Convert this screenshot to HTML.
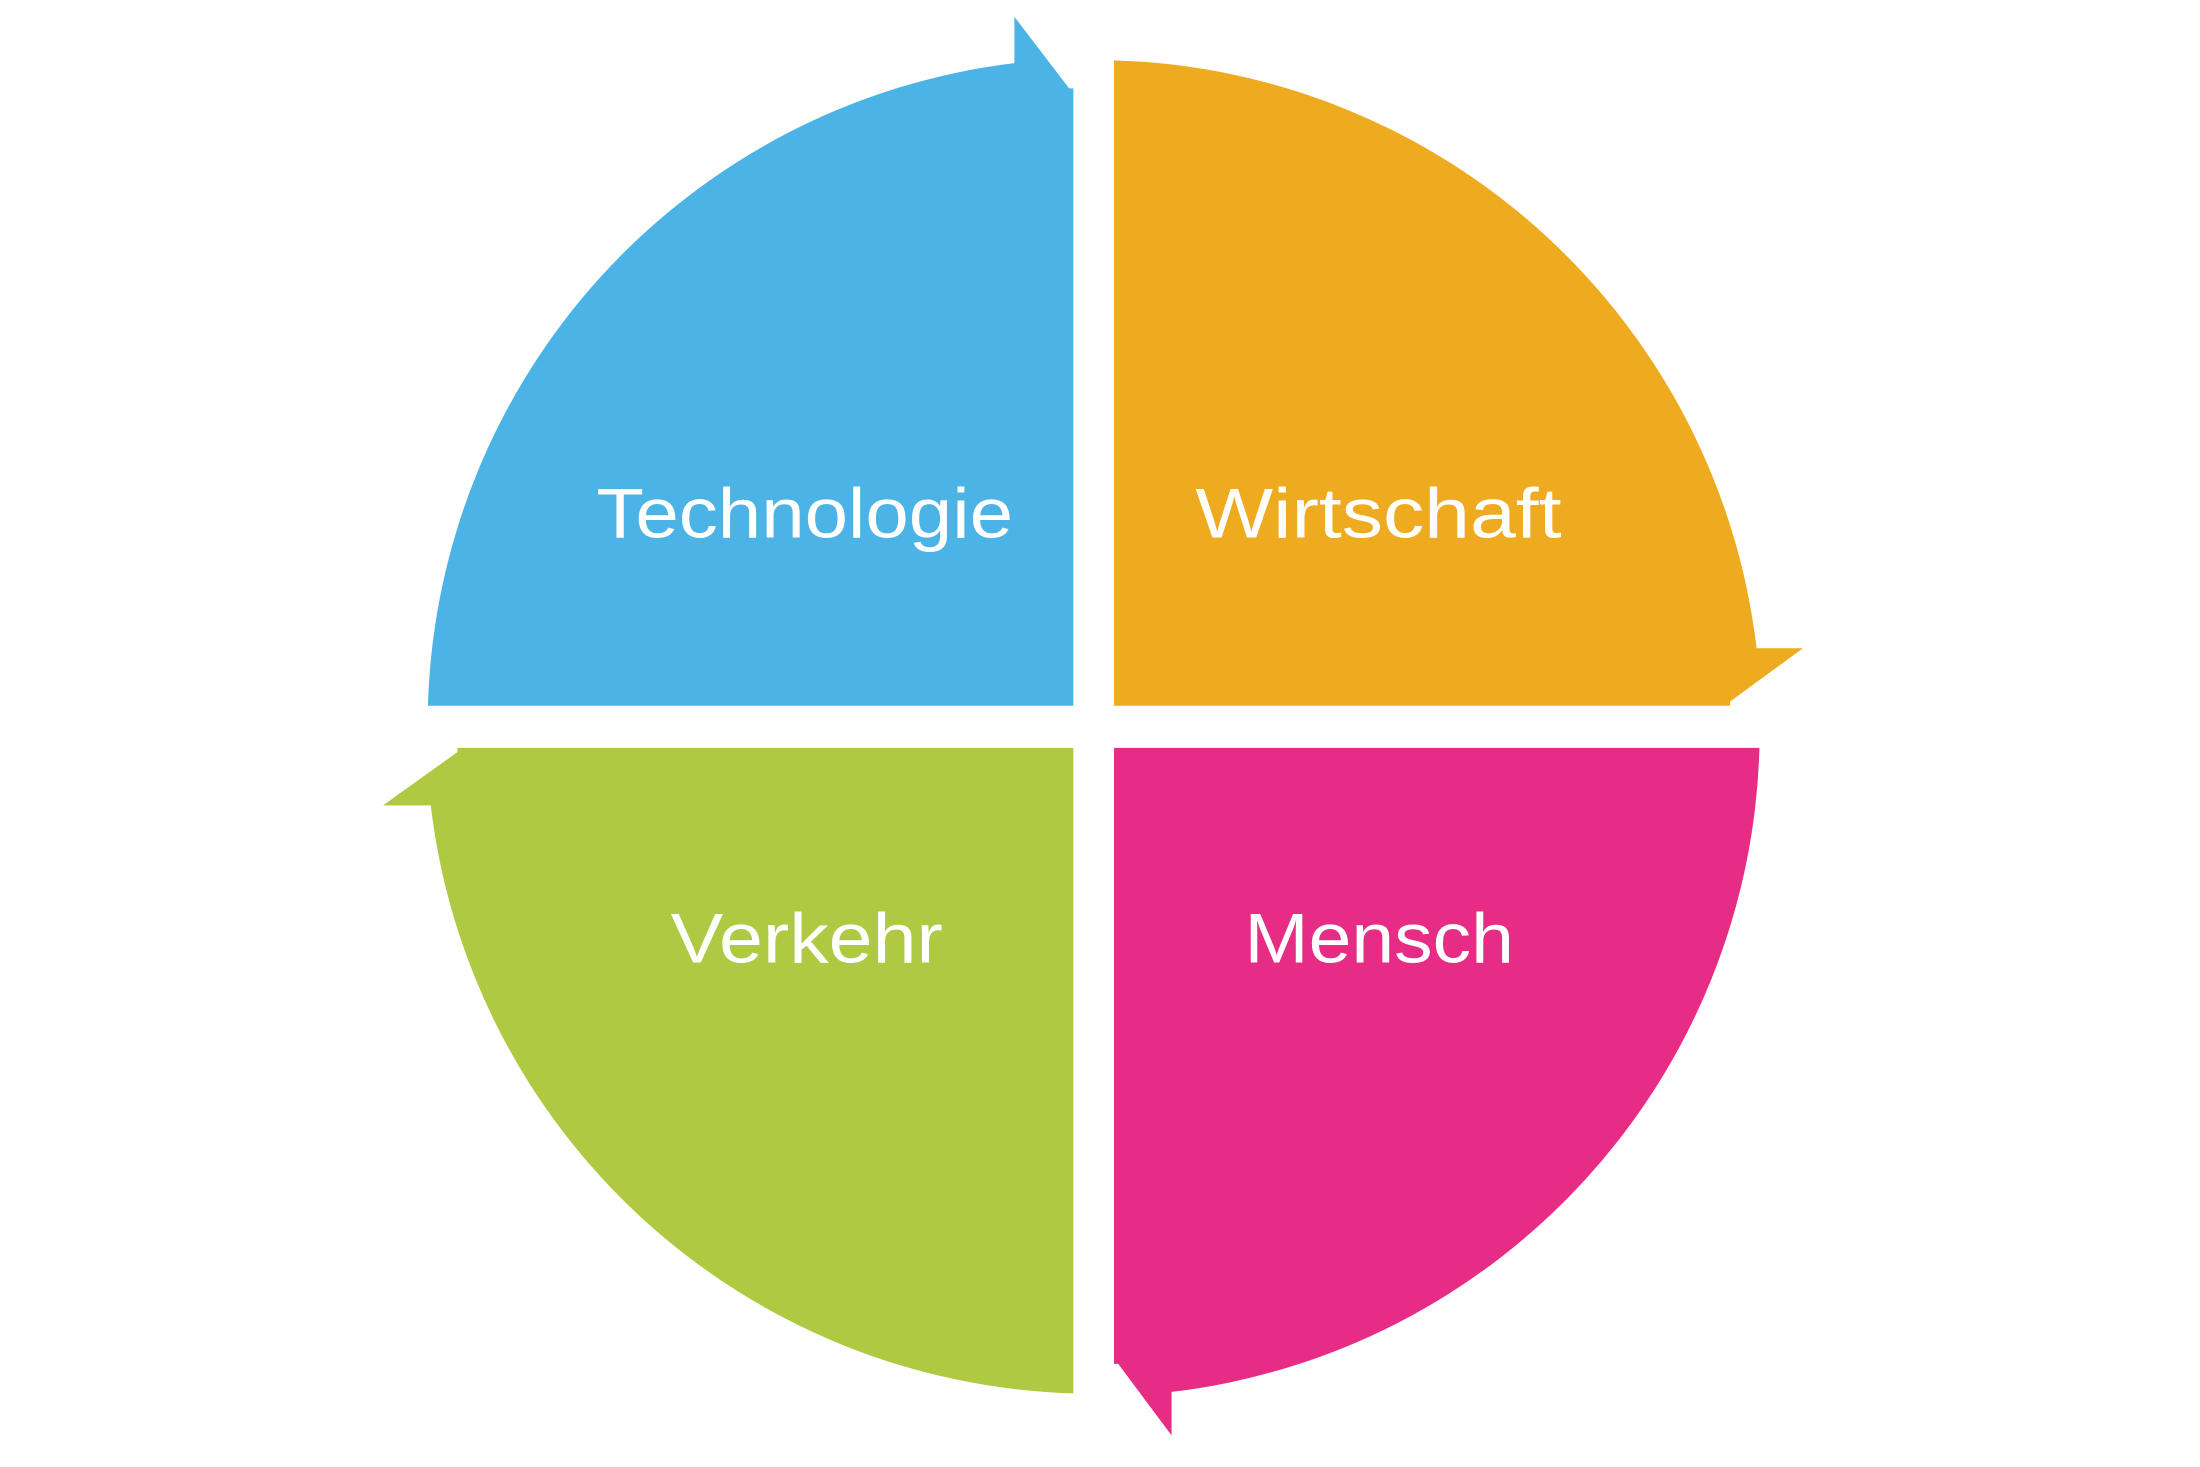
<!DOCTYPE html>
<html><head><meta charset="utf-8"><style>html,body{margin:0;padding:0;background:#fff}svg{display:block}</style></head>
<body>
<svg width="2200" height="1467" viewBox="0 0 1568 1045.5" preserveAspectRatio="none" xmlns="http://www.w3.org/2000/svg">
<path d="M305,503 L765,503 L765,63 L762,63 L723,12 L723,45 A475 475 0 0 0 305,503 Z" fill="#4bb3e5"/>
<path d="M794,43 L794,503 L1233,503 L1233,500 L1285,462 L1252,462 A475 475 0 0 0 794,43 Z" fill="#efab1f"/>
<path d="M765,533 L326,533 L326,536 L273,574 L307,574 A475 475 0 0 0 765,993 Z" fill="#afc942"/>
<path d="M794,533 L1254,533 A475 475 0 0 1 835,992 L835,1023 L797,972 L794,972 Z" fill="#e72c86"/>
<g font-family="Liberation Sans, sans-serif" font-size="50" fill="#fff">
<text x="425" y="383" textLength="297" lengthAdjust="spacingAndGlyphs">Technologie</text>
<text x="852" y="383" textLength="261" lengthAdjust="spacingAndGlyphs">Wirtschaft</text>
<text x="478" y="686" textLength="194" lengthAdjust="spacingAndGlyphs">Verkehr</text>
<text x="887" y="686" textLength="192" lengthAdjust="spacingAndGlyphs">Mensch</text>
</g>
</svg>
</body></html>
